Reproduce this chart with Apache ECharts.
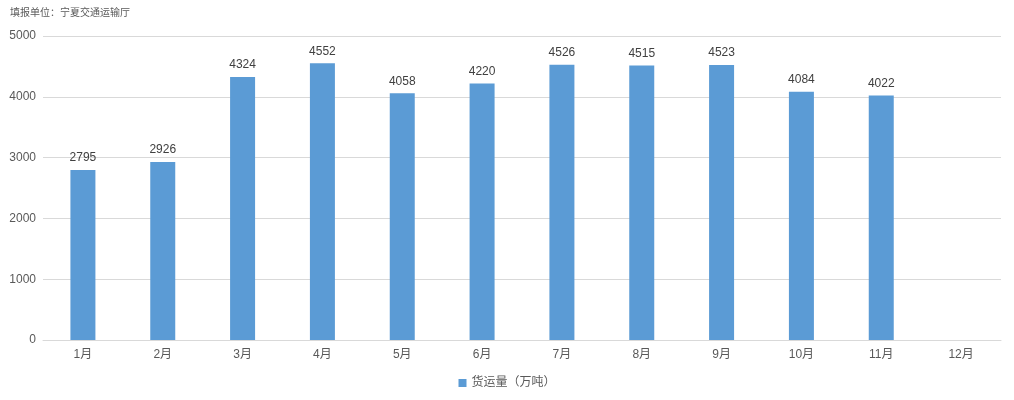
<!DOCTYPE html>
<html><head><meta charset="utf-8">
<script src="https://cdn.jsdelivr.net/npm/echarts@6/dist/echarts.min.js"></script>
<style>html,body{margin:0;padding:0;background:#fff}#c{width:1014px;height:400px}</style>
</head><body><div id="c"></div>
<script>
const categories = ['1月','2月','3月','4月','5月','6月','7月','8月','9月','10月','11月','12月'];
const freight = [2795, 2926, 4324, 4552, 4058, 4220, 4526, 4515, 4523, 4084, 4022, null];
const seriesName = '货运量（万吨）';
const yTicks = [0, 1000, 2000, 3000, 4000, 5000];
const chart = echarts.init(document.getElementById('c'));
chart.setOption({
  animation: false,
  textStyle: {fontFamily: 'Liberation Sans, Arial, "Noto Sans CJK SC", sans-serif'},
  title: {text: '填报单位：宁夏交通运输厅', left: 5, top: 3,
    textStyle: {fontSize: 10, fontWeight: 'normal', color: '#595959'}},
  grid: {left: 43, right: 13, top: 36, bottom: 60, containLabel: false},
  legend: {bottom: 6, left: 'center', itemWidth: 8, itemHeight: 8, icon: 'rect',
    textStyle: {fontSize: 12, color: '#595959'}, data: [seriesName]},
  xAxis: {type: 'category', data: categories,
    axisLine: {lineStyle: {color: '#d9d9d9'}}, axisTick: {show: false},
    axisLabel: {color: '#595959', fontSize: 12, margin: 9}},
  yAxis: {type: 'value', min: yTicks[0], max: yTicks[yTicks.length-1], interval: 1000,
    axisLine: {show: false}, axisTick: {show: false},
    axisLabel: {color: '#595959', fontSize: 12, margin: 7, formatter: v => String(v)},
    splitLine: {lineStyle: {color: '#d9d9d9'}}},
  series: [{name: seriesName, type: 'bar', data: freight, barWidth: 25,
    itemStyle: {color: '#5B9BD5'},
    label: {show: true, position: 'top', color: '#404040', fontSize: 12, distance: 6}}]
});
</script></body></html>
